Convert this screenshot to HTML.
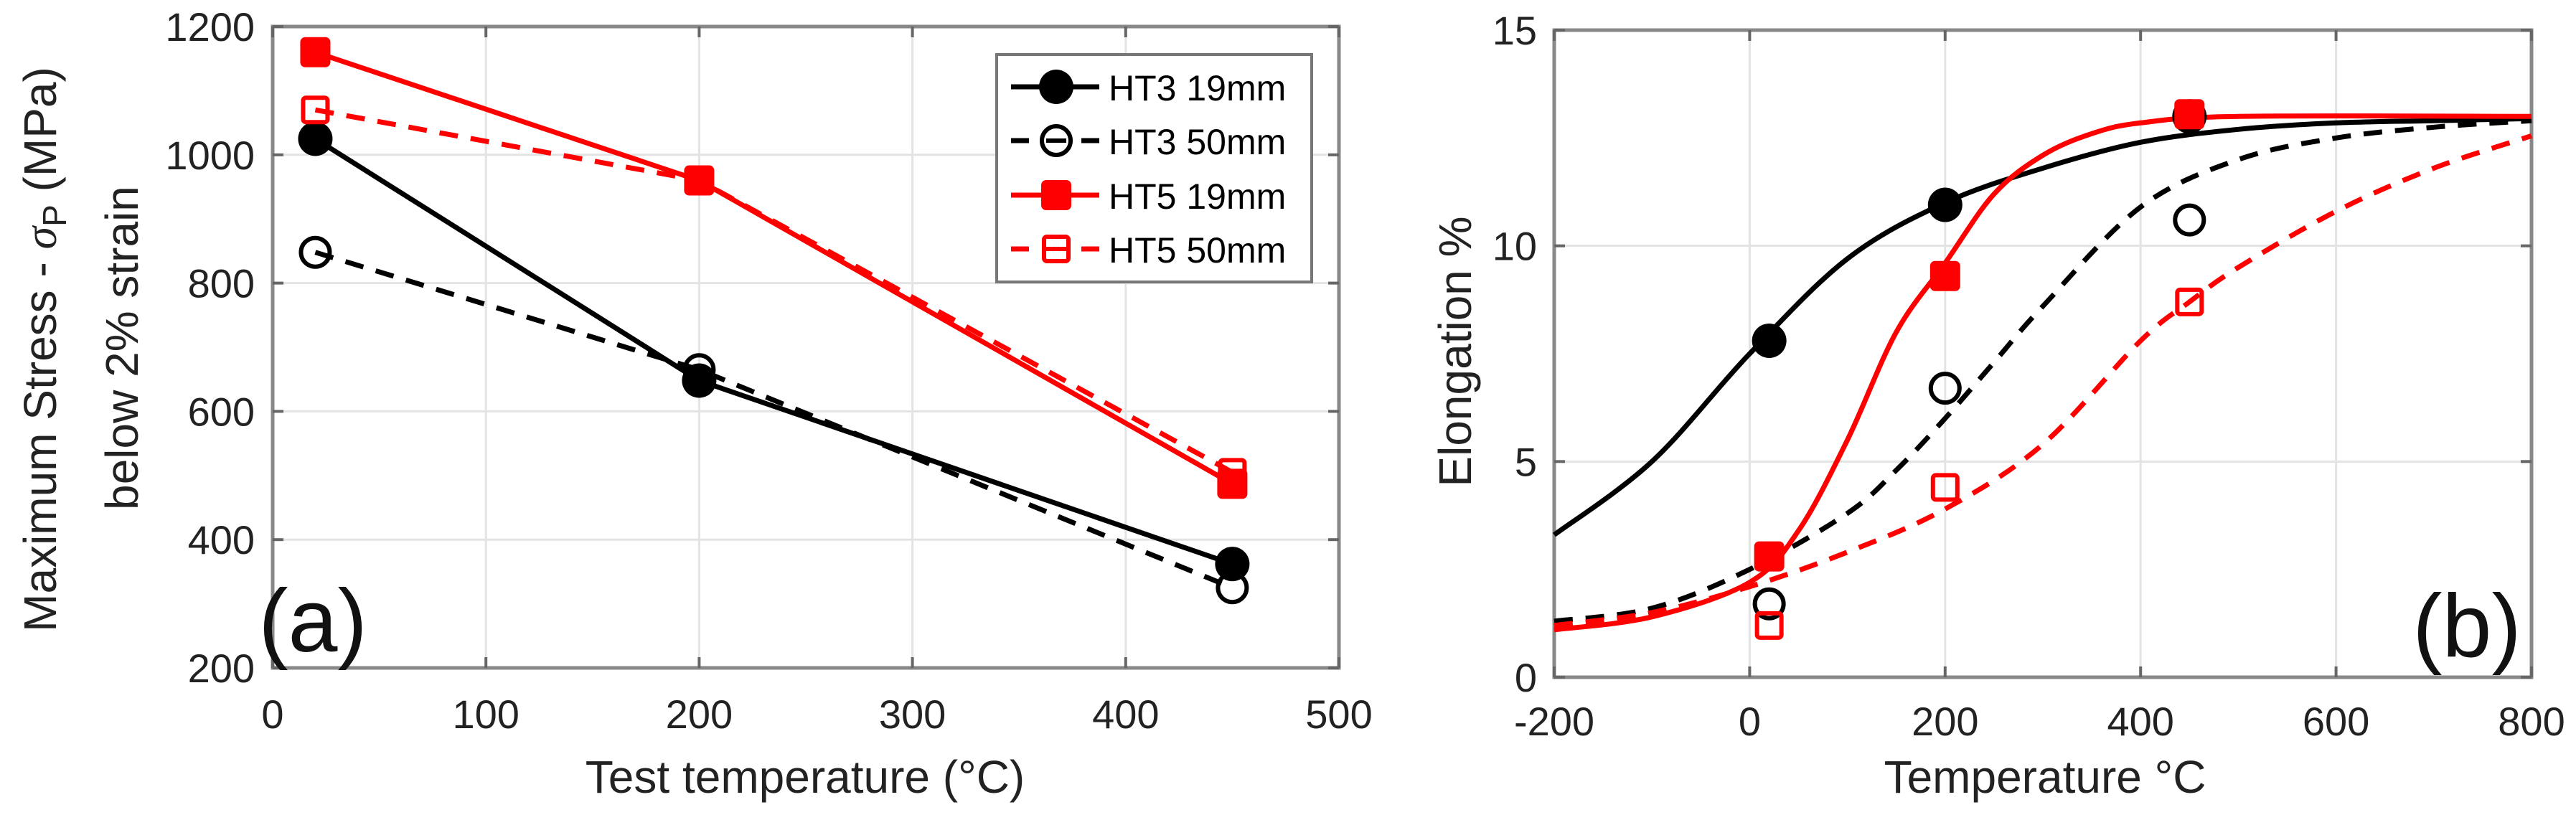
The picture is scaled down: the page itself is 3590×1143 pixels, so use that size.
<!DOCTYPE html>
<html><head><meta charset="utf-8"><style>
html,body{margin:0;padding:0;background:#fff;}
svg{display:block;font-family:"Liberation Sans",sans-serif;}
</style></head><body>
<svg id="fig" width="3590" height="1143" viewBox="0 0 3590 1143" xmlns="http://www.w3.org/2000/svg">
<g id="pa"></g>
<g id="pb"></g>
</svg>
<script>
// Panel (a) data
const aTemps = [20, 200, 450];
const aHT3_19 = [1025, 648, 362];
const aHT3_50 = [848, 665, 325];
const aHT5_19 = [1160, 960, 487];
const aHT5_50 = [1070, 960, 505];
const aXTicks = [0, 100, 200, 300, 400, 500];
const aYTicks = [200, 400, 600, 800, 1000, 1200];
// Panel (b) data points
const bTemps = [20, 200, 450];
const bHT3_19 = [7.8, 10.95, 13.0];
const bHT3_50 = [1.7, 6.7, 10.6];
const bHT5_19 = [2.8, 9.3, 13.05];
const bHT5_50 = [1.2, 4.4, 8.7];
// Panel (b) fitted curves
const cHT3_19x = [-200,-100,0,100,200,300,400,500,600,700,800];
const cHT3_19y = [3.3,5.0,7.5,9.7,11.0,11.8,12.4,12.7,12.85,12.9,12.95];
const cHT5_19x = [-200,-100,0,50,100,150,200,250,300,350,400,500,800];
const cHT5_19y = [1.1,1.4,2.2,3.4,5.5,8.0,9.6,11.2,12.1,12.6,12.85,13.0,13.0];
const cHT3_50x = [-200,-100,0,100,150,200,250,300,400,500,600,700,800];
const cHT3_50y = [1.3,1.6,2.5,3.8,4.8,6.0,7.3,8.6,10.9,12.0,12.5,12.75,12.9];
const cHT5_50x = [-200,-100,0,100,200,300,400,450,500,600,700,800];
const cHT5_50y = [1.2,1.5,2.1,2.9,3.9,5.4,7.8,8.7,9.5,10.8,11.8,12.55];
const bXTicks = [-200, 0, 200, 400, 600, 800];
const bYTicks = [0, 5, 10, 15];

const NS = "http://www.w3.org/2000/svg";
function mk(parent, tag, attrs, text){
  const e = document.createElementNS(NS, tag);
  for (const k in attrs) e.setAttribute(k, attrs[k]);
  if (text !== undefined) e.textContent = text;
  parent.appendChild(e);
  return e;
}
const RED = "#ff0000", BLK = "#000";

// ---------- Panel a ----------
const pa = document.getElementById('pa');
const ax = v => 380 + (v - 0) / 500 * (1866 - 380);
const ay = v => 931 - (v - 200) / 1000 * (931 - 37);
aXTicks.forEach(t=>{
  const g = mk(pa,'line',{x1:ax(t),x2:ax(t),y1:37,y2:931,stroke:'#e3e3e3','stroke-width':3});
  
  
  const tl = mk(pa,'text',{x:ax(t),y:1015,'font-size':56,'text-anchor':'middle',fill:'#222'},String(t));
  
  
});
aYTicks.forEach(t=>{
  const g = mk(pa,'line',{x1:380,x2:1866,y1:ay(t),y2:ay(t),stroke:'#e3e3e3','stroke-width':3});
  
  
  const tl = mk(pa,'text',{x:355,y:ay(t)+20,'font-size':56,'text-anchor':'end',fill:'#222'},String(t));
  
  
});
const boxA = mk(pa,'rect',{x:380,y:37,width:1486,height:894,fill:'none',stroke:'#888','stroke-width':5});


aXTicks.forEach(t=>{ mk(pa,'line',{x1:ax(t),x2:ax(t),y1:931,y2:916,stroke:'#666','stroke-width':4}); mk(pa,'line',{x1:ax(t),x2:ax(t),y1:37,y2:52,stroke:'#666','stroke-width':4}); });
aYTicks.forEach(t=>{ mk(pa,'line',{x1:380,x2:395,y1:ay(t),y2:ay(t),stroke:'#666','stroke-width':4}); mk(pa,'line',{x1:1851,x2:1866,y1:ay(t),y2:ay(t),stroke:'#666','stroke-width':4}); });

function series(parent, xs, ys, fx, fy, color, dashed, marker, name){
  const g = mk(parent,'g',{});
  
  
  const pts = xs.map((x,i)=>fx(x)+','+fy(ys[i])).join(' ');
  mk(g,'polyline',{points:pts,fill:'none',stroke:color,'stroke-width':7,'stroke-dasharray':dashed?'26 18':'none'});
  xs.forEach((x,i)=>drawMarker(g, fx(x), fy(ys[i]), color, marker));
  return g;
}
function drawMarker(g, cx, cy, color, marker){
  let m;
  if (marker==='fc') m = mk(g,'circle',{cx:cx,cy:cy,r:24,fill:color});
  else if (marker==='oc') m = mk(g,'circle',{cx:cx,cy:cy,r:20,fill:'none',stroke:color,'stroke-width':6});
  else if (marker==='fs') m = mk(g,'rect',{x:cx-21,y:cy-21,width:42,height:42,rx:7,fill:color});
  else m = mk(g,'rect',{x:cx-17,y:cy-17,width:34,height:34,rx:4,fill:'none',stroke:color,'stroke-width':6});
  
  
}
series(pa, aTemps, aHT3_50, ax, ay, BLK, true, 'oc', 'series-ht3-50mm');
series(pa, aTemps, aHT3_19, ax, ay, BLK, false, 'fc', 'series-ht3-19mm');
series(pa, aTemps, aHT5_50, ax, ay, RED, true, 'os', 'series-ht5-50mm');
series(pa, aTemps, aHT5_19, ax, ay, RED, false, 'fs', 'series-ht5-19mm');

// legend
const lg = mk(pa,'g',{});


mk(lg,'rect',{x:1389,y:76,width:439,height:317,fill:'#fff',stroke:'#777','stroke-width':4});
const legItems = [['HT3 19mm',BLK,false,'fc',121],['HT3 50mm',BLK,true,'oc',196],['HT5 19mm',RED,false,'fs',272],['HT5 50mm',RED,true,'os',347]];
legItems.forEach(it=>{
  const e = mk(lg,'g',{});
  
  
  if (it[2]) { mk(e,'line',{x1:1409,x2:1434,y1:it[4],y2:it[4],stroke:it[1],'stroke-width':7}); mk(e,'line',{x1:1507,x2:1532,y1:it[4],y2:it[4],stroke:it[1],'stroke-width':7}); mk(e,'line',{x1:1458,x2:1486,y1:it[4],y2:it[4],stroke:it[1],'stroke-width':6}); }
  else mk(e,'line',{x1:1409,x2:1532,y1:it[4],y2:it[4],stroke:it[1],'stroke-width':7});
  drawMarker(e,1472,it[4],it[1],it[3]);
  mk(e,'text',{x:1545,y:it[4]+19,'font-size':50,fill:'#000'},it[0]);
});

const xlA = mk(pa,'text',{x:1122,y:1105,'font-size':64,'text-anchor':'middle',fill:'#222'},'Test temperature (°C)');


const ylA = mk(pa,'text',{transform:'translate(78,487) rotate(-90)','font-size':64,'text-anchor':'middle',fill:'#222'});


mk(ylA,'tspan',{},'Maximum Stress - ');
mk(ylA,'tspan',{'font-family':'"Liberation Serif",serif','font-style':'italic'},'σ');
mk(ylA,'tspan',{dy:14,'font-size':46},'P');
mk(ylA,'tspan',{dy:-14},' (MPa)');
const ylA2 = mk(pa,'text',{transform:'translate(192,485) rotate(-90)','font-size':64,'text-anchor':'middle',fill:'#222'},'below 2% strain');


const la = mk(pa,'text',{x:436,y:908,'font-size':124,'text-anchor':'middle',fill:'#111'},'(a)');



// ---------- Panel b ----------
const pb = document.getElementById('pb');
const bx = v => 2166 + (v + 200) / 1000 * (3528 - 2166);
const by = v => 944 - v / 15 * (944 - 42);
bXTicks.forEach(t=>{
  const g = mk(pb,'line',{x1:bx(t),x2:bx(t),y1:42,y2:944,stroke:'#e3e3e3','stroke-width':3});
  
  
  const tl = mk(pb,'text',{x:bx(t),y:1025,'font-size':56,'text-anchor':'middle',fill:'#222'},String(t));
  
  
});
bYTicks.forEach(t=>{
  const g = mk(pb,'line',{x1:2166,x2:3528,y1:by(t),y2:by(t),stroke:'#e3e3e3','stroke-width':3});
  
  
  const tl = mk(pb,'text',{x:2142,y:by(t)+20,'font-size':56,'text-anchor':'end',fill:'#222'},String(t));
  
  
});
const boxB = mk(pb,'rect',{x:2166,y:42,width:1362,height:902,fill:'none',stroke:'#888','stroke-width':5});


bXTicks.forEach(t=>{ mk(pb,'line',{x1:bx(t),x2:bx(t),y1:944,y2:929,stroke:'#666','stroke-width':4}); mk(pb,'line',{x1:bx(t),x2:bx(t),y1:42,y2:57,stroke:'#666','stroke-width':4}); });
bYTicks.forEach(t=>{ mk(pb,'line',{x1:2166,x2:2181,y1:by(t),y2:by(t),stroke:'#666','stroke-width':4}); mk(pb,'line',{x1:3513,x2:3528,y1:by(t),y2:by(t),stroke:'#666','stroke-width':4}); });

function smoothPath(xs, ys){
  const p = xs.map((x,i)=>[bx(x),by(ys[i])]);
  let d = 'M'+p[0][0]+','+p[0][1];
  for (let i=0;i<p.length-1;i++){
    const p0=p[Math.max(0,i-1)], p1=p[i], p2=p[i+1], p3=p[Math.min(p.length-1,i+2)];
    const c1=[p1[0]+(p2[0]-p0[0])/6, p1[1]+(p2[1]-p0[1])/6];
    const c2=[p2[0]-(p3[0]-p1[0])/6, p2[1]-(p3[1]-p1[1])/6];
    d += ' C'+c1[0]+','+c1[1]+' '+c2[0]+','+c2[1]+' '+p2[0]+','+p2[1];
  }
  return d;
}
function curve(xs, ys, color, dashed, name){
  const c = mk(pb,'path',{d:smoothPath(xs,ys),fill:'none',stroke:color,'stroke-width':7,'stroke-dasharray':dashed?'26 18':'none'});
  
  
}
curve(cHT3_50x, cHT3_50y, BLK, true, 'fit-ht3-50mm');
curve(cHT5_50x, cHT5_50y, RED, true, 'fit-ht5-50mm');
curve(cHT3_19x, cHT3_19y, BLK, false, 'fit-ht3-19mm');
curve(cHT5_19x, cHT5_19y, RED, false, 'fit-ht5-19mm');
function pts(xs, ys, color, marker, name){
  const g = mk(pb,'g',{});
  
  
  xs.forEach((x,i)=>drawMarker(g,bx(x),by(ys[i]),color,marker));
}
pts(bTemps, bHT3_50, BLK, 'oc', 'points-ht3-50mm');
pts(bTemps, bHT5_50, RED, 'os', 'points-ht5-50mm');
pts(bTemps, bHT3_19, BLK, 'fc', 'points-ht3-19mm');
pts(bTemps, bHT5_19, RED, 'fs', 'points-ht5-19mm');

const xlB = mk(pb,'text',{x:2850,y:1105,'font-size':64,'text-anchor':'middle',fill:'#222'},'Temperature °C');


const ylB = mk(pb,'text',{transform:'translate(2050,490) rotate(-90)','font-size':64,'text-anchor':'middle',fill:'#222'},'Elongation %');


const lb = mk(pb,'text',{x:3438,y:915,'font-size':124,'text-anchor':'middle',fill:'#111'},'(b)');


</script>
</body></html>
